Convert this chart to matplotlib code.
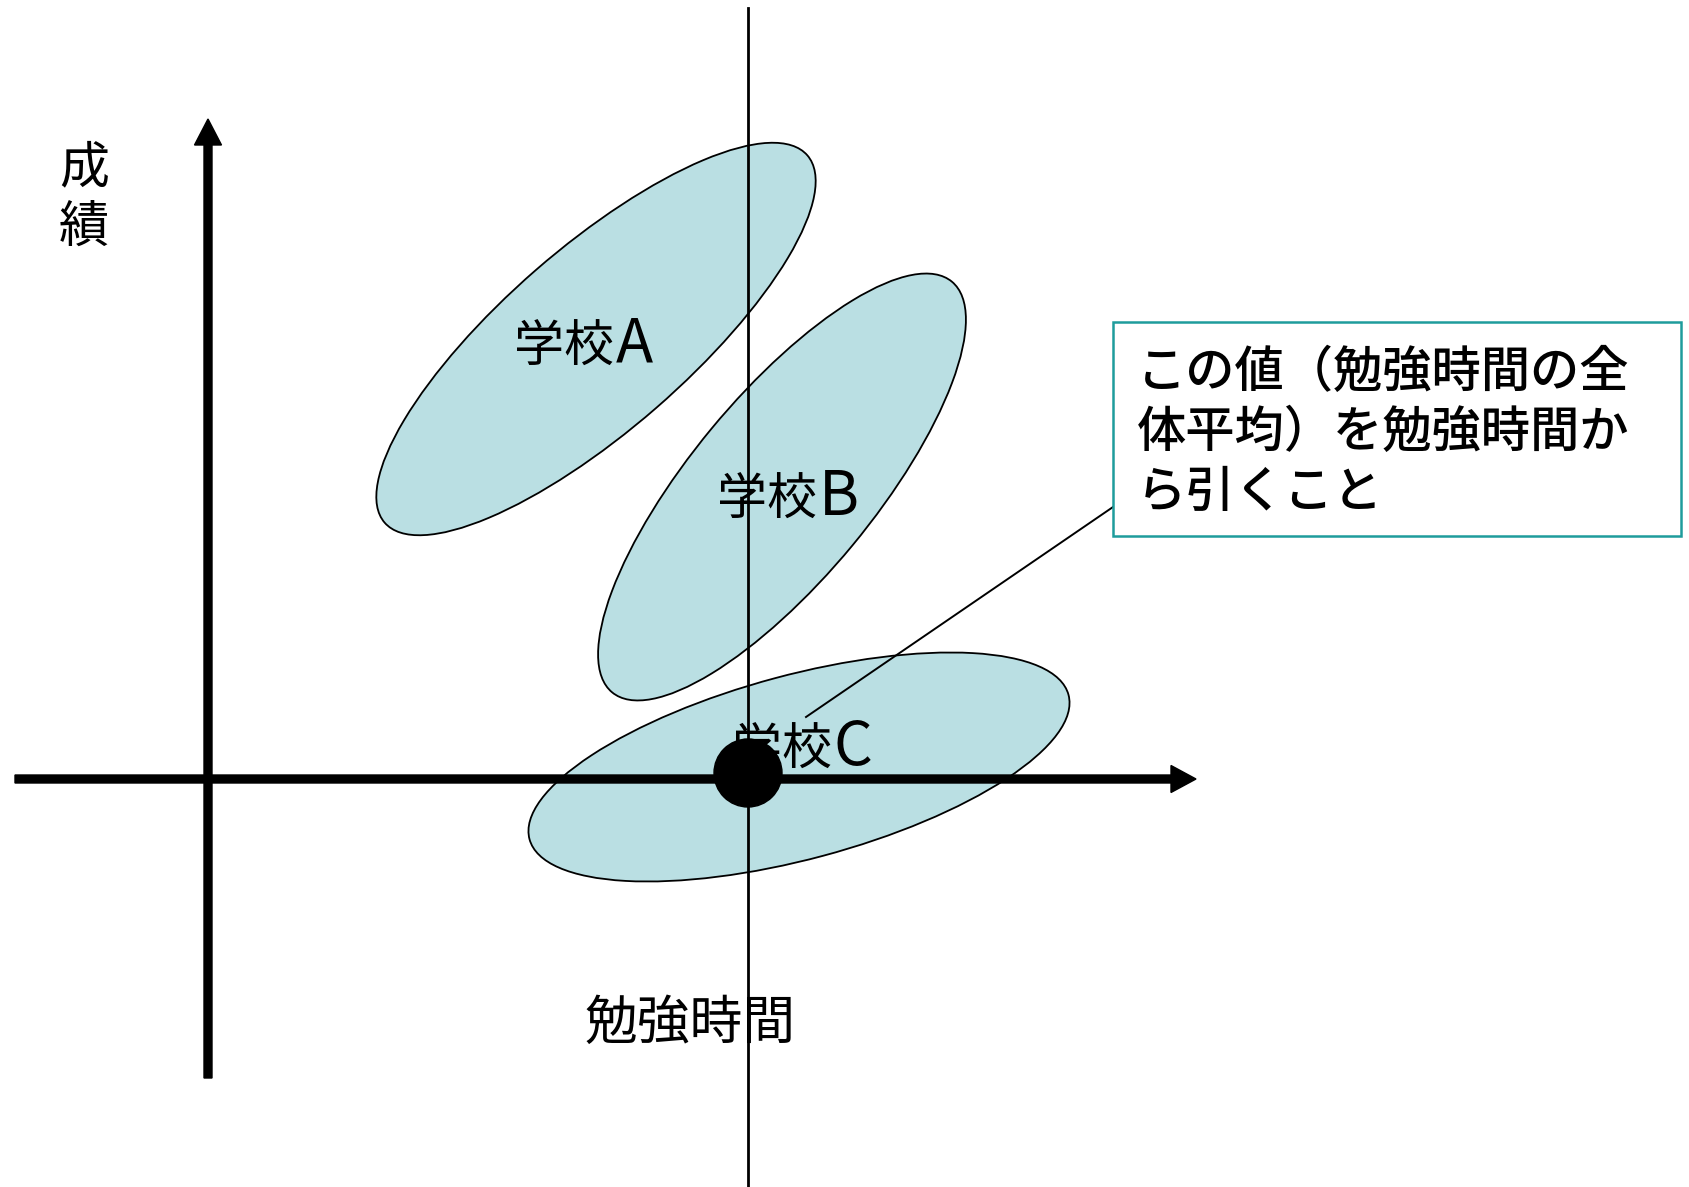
import matplotlib
matplotlib.use("Agg")
import matplotlib.pyplot as plt
from matplotlib.patches import Ellipse, Circle, FancyArrow, Rectangle

plt.rcParams['font.family'] = ['Noto Sans CJK JP', 'DejaVu Sans']

# ---- data (pixel space of the original drawing, y downward) ----
school_labels = ["学校A", "学校B", "学校C"]
ellipse_cx = [596, 782, 799]
ellipse_cy = [339, 487, 767]
ellipse_w = [560, 533, 558]     # full major axis
ellipse_h = [183, 183, 184]     # full minor axis
ellipse_angle = [-41, -50.4, -15]
label_cx = [582, 785, 800]
label_cy = [338, 491, 741]

y_axis_label = "成\n績"
x_axis_label = "勉強時間"
callout_text = "この値（勉強時間の全\n体平均）を勉強時間か\nら引くこと"

mean_x = 748          # overall mean of study time
origin_x, origin_y = 208, 779
dot_y = 773

W, H = 1690, 1187
fig = plt.figure(figsize=(W / 100, H / 100), dpi=100)
ax = fig.add_axes([0, 0, 1, 1])
ax.set_xlim(0, W)
ax.set_ylim(H, 0)
ax.axis('off')

fill = '#BADFE3'
for cx, cy, w, h, a in zip(ellipse_cx, ellipse_cy, ellipse_w, ellipse_h, ellipse_angle):
    ax.add_patch(Ellipse((cx, cy), w, h, angle=a, facecolor=fill,
                         edgecolor='black', lw=1.3, zorder=1))

for t, cx, cy in zip(school_labels, label_cx, label_cy):
    split = cx + 32
    base = cy + 24
    ax.text(split, base, t[:-1], fontsize=36, ha='right', va='baseline', zorder=2)
    ax.text(split + 2, base, t[-1], fontsize=44, ha='left', va='baseline', zorder=2)

# axes arrows
ax.add_patch(FancyArrow(15, origin_y, 1196 - 15, 0, width=8, head_width=27,
                        head_length=25, length_includes_head=True,
                        color='black', zorder=3))
ax.add_patch(FancyArrow(origin_x, 1078, 0, 119 - 1078, width=8, head_width=27,
                        head_length=26, length_includes_head=True,
                        color='black', zorder=3))

ax.text(84, 198, y_axis_label, fontsize=36, ha='center', va='center',
        linespacing=1.2, zorder=2)
ax.text(690, 1023, x_axis_label, fontsize=38, ha='center', va='center', zorder=2)

# mean line
ax.plot([mean_x, mean_x], [8, H], color='black', lw=2.0, zorder=4)

# callout
ax.add_patch(Rectangle((1113, 322), 568, 214, facecolor='white',
                       edgecolor='#1E9C9C', lw=1.8, zorder=5))
ax.plot([1113, 806], [507, 717], color='black', lw=1.4, zorder=4)
ax.text(1137, 433, callout_text, fontsize=35.5, fontweight='medium',
        ha='left', va='center', linespacing=1.26, zorder=6)

ax.add_patch(Circle((mean_x, dot_y), 34, color='black', zorder=6))

fig.savefig('out.png', dpi=100)
